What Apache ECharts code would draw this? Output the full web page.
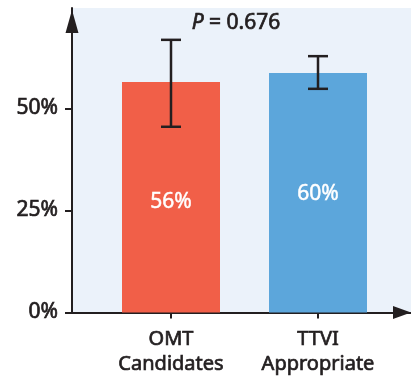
<!DOCTYPE html>
<html><head><meta charset="utf-8">
<script src="https://cdn.jsdelivr.net/npm/echarts@6/dist/echarts.min.js"></script>
<style>html,body{margin:0;padding:0;background:#fff}#c{width:411px;height:377px}</style>
</head><body><div id="c"></div>
<script>
const categories = ['OMT\nCandidates', 'TTVI\nAppropriate'];
const values = [56.5, 58.7];
const valueLabels = ['56%', '60%'];
const errLow = [45.5, 54.8];
const errHigh = [66.8, 62.8];
const yTicks = [0, 25, 50];
const pValue = '0.676';

const ink = '#231f20';
const font = 'Noto Sans';
const tb = 0.7;
const chart = echarts.init(document.getElementById('c'), null, {renderer: 'canvas'});
const yMax = 74.6;
const gTop = 8, gBottom = 64.5;
chart.setOption({
  animation: false,
  textStyle: {fontFamily: font},
  title: {
    text: '{i|P} = ' + pValue,
    left: 231, top: 8, textAlign: 'center',
    textStyle: {fontFamily: font, fontSize: 21, fontWeight: 'normal', color: ink, textBorderColor: ink, textBorderWidth: tb,
      rich: {i: {fontFamily: font, fontSize: 21, fontWeight: 'normal', fontStyle: 'italic', color: ink, textBorderColor: ink, textBorderWidth: tb}}}
  },
  grid: [
    {left: 72, right: 0, top: gTop, bottom: gBottom, show: true, backgroundColor: '#ebf2fa', borderWidth: 0, outerBoundsMode: 'none'},
    {left: 97.5, right: 19.5, top: gTop, bottom: gBottom, show: false, outerBoundsMode: 'none'}
  ],
  xAxis: [
    {gridIndex: 0, type: 'value', min: 0, max: 1,
      axisLine: {show: true, lineStyle: {color: ink, width: 2}, symbol: ['none', 'triangle'], symbolSize: [13, 18], symbolOffset: [0, -9]},
      axisTick: {show: false}, axisLabel: {show: false}, splitLine: {show: false}},
    {gridIndex: 1, type: 'category', data: categories,
      axisLine: {show: false},
      axisTick: {show: true, alignWithLabel: true, length: 6, lineStyle: {color: ink, width: 2}},
      axisLabel: {show: true, interval: 0, hideOverlap: false, color: ink, fontFamily: font, fontSize: 20, lineHeight: 25, margin: 14,
        textBorderColor: ink, textBorderWidth: tb},
      splitLine: {show: false}}
  ],
  yAxis: [
    {gridIndex: 0, type: 'value', min: 0, max: yMax, interval: 25,
      axisLine: {show: true, lineStyle: {color: ink, width: 2}, symbol: ['none', 'triangle'], symbolSize: [13, 23], symbolOffset: [0, -13.5]},
      axisTick: {show: true, length: 7, lineStyle: {color: ink, width: 2}},
      axisLabel: {show: true, showMaxLabel: false, color: ink, fontFamily: font, fontSize: 21, margin: 14,
        textBorderColor: ink, textBorderWidth: tb,
        formatter: v => yTicks.indexOf(v) >= 0 ? v + '%' : ''},
      splitLine: {show: false}},
    {gridIndex: 1, type: 'value', min: 0, max: yMax, interval: 25, show: false}
  ],
  series: [
    {type: 'bar', xAxisIndex: 1, yAxisIndex: 1, barWidth: 98,
      data: values.map((v, i) => ({value: v, itemStyle: {color: i === 0 ? '#f15f48' : '#5ca6db'},
        label: {offset: [0, i === 0 ? 5 : 1]}})),
      label: {show: true, position: 'inside', color: '#fff', fontFamily: font, fontSize: 21,
        textBorderColor: '#fff', textBorderWidth: 0.5,
        formatter: p => valueLabels[p.dataIndex]}},
    {type: 'custom', xAxisIndex: 1, yAxisIndex: 1, z: 5,
      data: errLow.map((l, i) => [i, l, errHigh[i]]),
      encode: {x: 0, y: [1, 2]},
      renderItem: (params, api) => {
        const lo = api.coord([api.value(0), api.value(1)]);
        const hi = api.coord([api.value(0), api.value(2)]);
        const hw = 10;
        const st = {stroke: ink, lineWidth: 2.5};
        return {type: 'group', children: [
          {type: 'line', shape: {x1: lo[0], y1: lo[1], x2: hi[0], y2: hi[1]}, style: st},
          {type: 'line', shape: {x1: lo[0] - hw, y1: lo[1], x2: lo[0] + hw, y2: lo[1]}, style: st},
          {type: 'line', shape: {x1: hi[0] - hw, y1: hi[1], x2: hi[0] + hw, y2: hi[1]}, style: st}
        ]};
      }}
  ]
});
</script></body></html>
